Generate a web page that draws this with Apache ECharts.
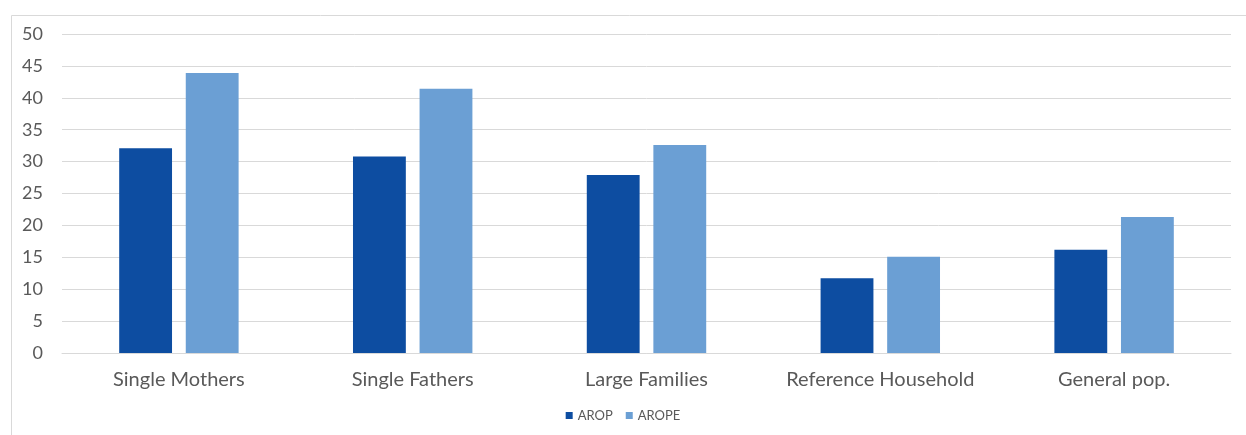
<!DOCTYPE html>
<html>
<head>
<meta charset="utf-8">
<script src="https://cdn.jsdelivr.net/npm/echarts@6/dist/echarts.min.js"></script>
<style>
html, body { margin: 0; padding: 0; background: #fff; }
#main { width: 1246px; height: 435px; }
</style>
</head>
<body>
<div id="main"></div>
<script>
var categories = ['Single Mothers', 'Single Fathers', 'Large Families', 'Reference Household', 'General pop.'];
var arop = [32.1, 30.8, 27.9, 11.7, 16.2];
var arope = [43.9, 41.4, 32.6, 15.1, 21.3];
var yTicks = [0, 50, 5];

var myChart = echarts.init(document.getElementById('main'));
var option = {
	animation: false,
	textStyle: { fontFamily: 'Lato, sans-serif' },
	graphic: [{
		type: 'rect',
		left: 9, top: 13,
		shape: { width: 1250, height: 440 },
		style: { fill: 'none', stroke: '#d9d9d9', lineWidth: 1 },
		silent: true
	}],
	grid: { left: 62, right: 15, top: 34, bottom: 82 },
	legend: {
		bottom: 8,
		left: 'center',
		itemWidth: 7,
		itemHeight: 7,
		itemGap: 13,
		icon: 'rect',
		textStyle: { fontSize: 13, color: '#595959' },
		data: ['AROP', 'AROPE']
	},
	xAxis: {
		type: 'category',
		data: categories,
		axisTick: { show: false },
		axisLine: { lineStyle: { color: '#d9d9d9' } },
		axisLabel: { fontSize: 20, color: '#595959', margin: 17, interval: 0 }
	},
	yAxis: {
		type: 'value',
		min: yTicks[0],
		max: yTicks[1],
		interval: yTicks[2],
		axisLabel: { fontSize: 18, color: '#595959', margin: 19 },
		splitLine: { lineStyle: { color: '#d9d9d9' } }
	},
	series: [{
		name: 'AROP',
		type: 'bar',
		data: arop,
		barWidth: '22.6%',
		barGap: '26%',
		itemStyle: { color: '#0d4da1' }
	}, {
		name: 'AROPE',
		type: 'bar',
		data: arope,
		barWidth: '22.6%',
		itemStyle: { color: '#6b9fd4' }
	}]
};
myChart.setOption(option);
</script>
</body>
</html>
